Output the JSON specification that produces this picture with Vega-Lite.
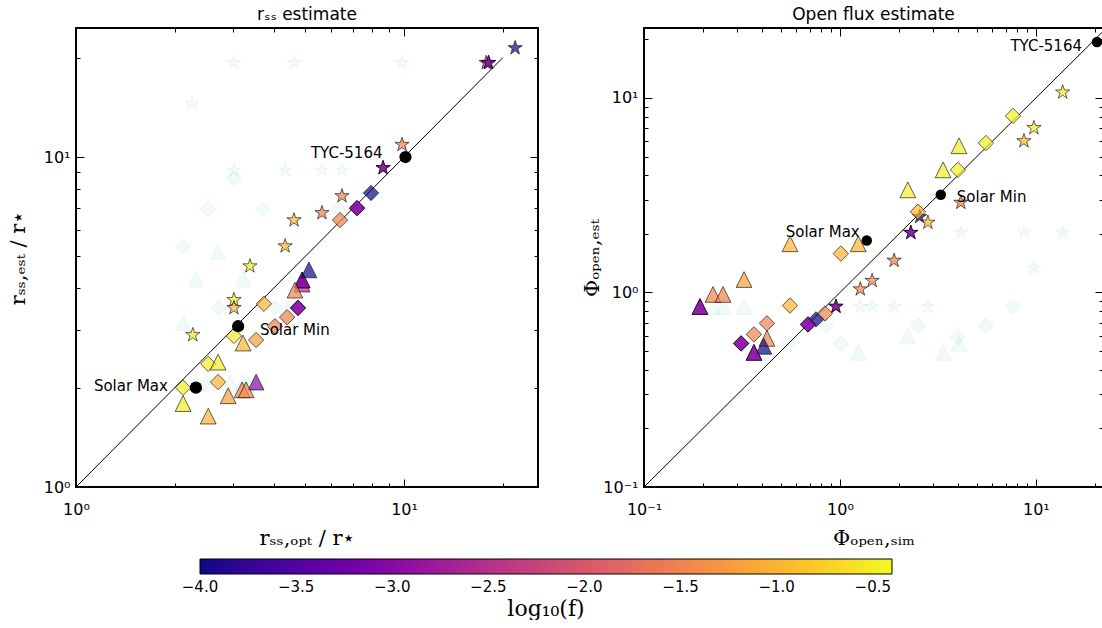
{
"$schema": "https://vega.github.io/schema/vega-lite/v6.json",
"padding": {"left": 6, "top": 4, "right": 0, "bottom": 0},
"spacing": 106,
"bounds": "flush",
"config": {
 "font": "DejaVu Sans",
 "view": {"stroke": "black", "strokeWidth": 2},
 "axis": {"grid": false, "domain": false, "tickColor": "black", "tickWidth": 1, "labelColor": "black", "labelFont": "DejaVu Sans", "labelFontSize": 16, "titleFont": "DejaVu Serif", "titleFontSize": 21, "titleFontWeight": "normal", "titleColor": "black", "labelFlush": false, "labelOverlap": false},
 "title": {"font": "DejaVu Sans", "fontSize": 17, "fontWeight": "normal", "color": "black", "offset": 4}
},
"datasets": {
 "L": [
  {"x":3.03,"y":19.3,"m":"s","g":"b"},{"x":4.62,"y":19.3,"m":"s","g":"b"},{"x":9.86,"y":19.3,"m":"s","g":"b"},{"x":2.26,"y":14.5,"m":"s","g":"b"},
  {"x":3.03,"y":9.12,"m":"s","g":"b"},{"x":4.34,"y":9.12,"m":"s","g":"b"},{"x":5.62,"y":9.12,"m":"s","g":"b"},{"x":6.47,"y":9.12,"m":"s","g":"b"},
  {"x":3.03,"y":8.6,"m":"d","g":"b"},{"x":2.53,"y":6.96,"m":"d","g":"b"},{"x":3.71,"y":6.96,"m":"d","g":"b"},{"x":6.27,"y":6.96,"m":"d","g":"b"},
  {"x":2.12,"y":5.34,"m":"d","g":"b"},{"x":2.73,"y":3.49,"m":"d","g":"b"},{"x":4.04,"y":3.49,"m":"d","g":"b"},{"x":4.49,"y":3.49,"m":"d","g":"b"},
  {"x":2.71,"y":5.16,"m":"t","g":"b"},{"x":2.32,"y":4.27,"m":"t","g":"b"},{"x":3.23,"y":4.27,"m":"t","g":"b"},{"x":2.12,"y":3.14,"m":"t","g":"b"},
  {"x":2.32,"y":2.07,"m":"t","g":"b"},{"x":2.51,"y":2.07,"m":"t","g":"b"},{"x":2.95,"y":2.07,"m":"t","g":"b"},{"x":3.23,"y":2.07,"m":"t","g":"b"},{"x":3.33,"y":2.07,"m":"t","g":"b"},
  {"x":17.8,"y":19.3,"m":"s","f":-2.5,"g":"c"},{"x":18.1,"y":19.3,"m":"s","f":-3,"g":"c"},{"x":18.1,"y":19.3,"m":"s","f":-3,"g":"c"},
  {"x":21.8,"y":21.4,"m":"s","f":-4,"g":"c"},{"x":9.86,"y":10.9,"m":"s","f":-1.5,"g":"c"},
  {"x":8.63,"y":9.27,"m":"s","f":-3,"g":"c"},{"x":8.63,"y":9.27,"m":"s","f":-3,"g":"c"},
  {"x":6.47,"y":7.62,"m":"s","f":-1.5,"g":"c"},{"x":5.62,"y":6.77,"m":"s","f":-1.5,"g":"c"},
  {"x":4.62,"y":6.44,"m":"s","f":-1,"g":"c"},{"x":4.34,"y":5.37,"m":"s","f":-1,"g":"c"},
  {"x":3.39,"y":4.67,"m":"s","f":-0.5,"g":"c"},{"x":3.03,"y":3.69,"m":"s","f":-0.5,"g":"c"},
  {"x":3.03,"y":3.49,"m":"s","f":-1,"g":"c"},{"x":2.27,"y":2.89,"m":"s","f":-0.5,"g":"c"},
  {"x":7.93,"y":7.78,"m":"d","f":-4,"g":"c"},{"x":7.19,"y":7.0,"m":"d","f":-3,"g":"c"},{"x":7.19,"y":7.0,"m":"d","f":-3,"g":"c"},
  {"x":6.38,"y":6.44,"m":"d","f":-1.5,"g":"c"},{"x":3.74,"y":3.59,"m":"d","f":-1,"g":"c"},
  {"x":4.75,"y":3.49,"m":"d","f":-3,"g":"c"},{"x":4.75,"y":3.49,"m":"d","f":-3,"g":"c"},
  {"x":4.4,"y":3.27,"m":"d","f":-1.5,"g":"c"},{"x":4.04,"y":3.07,"m":"d","f":-1.5,"g":"c"},
  {"x":3.54,"y":2.79,"m":"d","f":-1.2,"g":"c"},{"x":3.03,"y":2.87,"m":"d","f":-0.5,"g":"c"},
  {"x":2.53,"y":2.36,"m":"d","f":-0.5,"g":"c"},{"x":2.71,"y":2.08,"m":"d","f":-1,"g":"c"},{"x":2.12,"y":2.0,"m":"d","f":-0.5,"g":"c"},
  {"x":4.89,"y":4.12,"m":"t","f":-2.5,"g":"c"},{"x":4.89,"y":4.24,"m":"t","f":-3,"g":"c"},{"x":4.89,"y":4.24,"m":"t","f":-3,"g":"c"},
  {"x":5.13,"y":4.55,"m":"t","f":-4,"g":"c"},{"x":4.65,"y":3.95,"m":"t","f":-1.5,"g":"c"},
  {"x":3.23,"y":2.73,"m":"t","f":-1,"g":"c"},{"x":2.71,"y":2.39,"m":"t","f":-0.5,"g":"c"},
  {"x":3.54,"y":2.08,"m":"t","f":-3,"g":"c"},{"x":3.21,"y":1.97,"m":"t","f":-1.5,"g":"c"},
  {"x":3.3,"y":1.97,"m":"t","f":-1.4,"g":"c"},{"x":2.91,"y":1.89,"m":"t","f":-1.2,"g":"c"},
  {"x":2.12,"y":1.79,"m":"t","f":-0.5,"g":"c"},{"x":2.53,"y":1.64,"m":"t","f":-1,"g":"c"},
  {"x":10.1,"y":10.0,"m":"o","g":"k","label":"TYC-5164"},
  {"x":3.12,"y":3.07,"m":"o","g":"k","label":"Solar Min"},
  {"x":2.32,"y":2.0,"m":"o","g":"k","label":"Solar Max"}
 ],
 "R": [
  {"x":4.14,"y":2.03,"m":"s","g":"b"},{"x":8.69,"y":2.03,"m":"s","g":"b"},{"x":13.7,"y":2.03,"m":"s","g":"b"},{"x":9.77,"y":1.34,"m":"s","g":"b"},
  {"x":1.27,"y":0.847,"m":"s","g":"b"},{"x":1.46,"y":0.847,"m":"s","g":"b"},{"x":1.89,"y":0.847,"m":"s","g":"b"},{"x":2.81,"y":0.847,"m":"s","g":"b"},
  {"x":0.225,"y":0.847,"m":"t","g":"b"},{"x":0.253,"y":0.847,"m":"t","g":"b"},{"x":0.324,"y":0.847,"m":"t","g":"b"},{"x":4.05,"y":0.547,"m":"t","g":"b"},
  {"x":2.22,"y":0.6,"m":"t","g":"b"},{"x":1.24,"y":0.492,"m":"t","g":"b"},{"x":3.36,"y":0.492,"m":"t","g":"b"},{"x":0.42,"y":0.49,"m":"t","g":"b"},
  {"x":7.64,"y":0.847,"m":"d","g":"b"},{"x":2.5,"y":0.677,"m":"d","g":"b"},{"x":5.56,"y":0.677,"m":"d","g":"b"},{"x":4.0,"y":0.588,"m":"d","g":"b"},
  {"x":1.01,"y":0.547,"m":"d","g":"b"},{"x":0.85,"y":0.677,"m":"d","g":"b"},{"x":0.55,"y":0.547,"m":"d","g":"b"},
  {"x":13.7,"y":10.7,"m":"s","f":-0.5,"g":"c"},{"x":9.77,"y":7.02,"m":"s","f":-0.5,"g":"c"},{"x":8.69,"y":6.01,"m":"s","f":-1,"g":"c"},
  {"x":4.14,"y":2.9,"m":"s","f":-1.5,"g":"c"},{"x":2.55,"y":2.45,"m":"s","f":-4,"g":"c"},{"x":2.81,"y":2.29,"m":"s","f":-1,"g":"c"},
  {"x":2.3,"y":2.03,"m":"s","f":-3,"g":"c"},{"x":2.3,"y":2.03,"m":"s","f":-3,"g":"c"},
  {"x":1.89,"y":1.46,"m":"s","f":-1.5,"g":"c"},{"x":1.46,"y":1.15,"m":"s","f":-1.5,"g":"c"},{"x":1.27,"y":1.04,"m":"s","f":-1.5,"g":"c"},
  {"x":0.954,"y":0.847,"m":"s","f":-3,"g":"c"},{"x":0.954,"y":0.847,"m":"s","f":-3,"g":"c"},
  {"x":7.64,"y":8.09,"m":"d","f":-0.5,"g":"c"},{"x":5.56,"y":5.87,"m":"d","f":-0.5,"g":"c"},{"x":4.0,"y":4.27,"m":"d","f":-0.5,"g":"c"},
  {"x":2.5,"y":2.6,"m":"d","f":-1,"g":"c"},{"x":1.01,"y":1.585,"m":"d","f":-1,"g":"c"},{"x":0.556,"y":0.857,"m":"d","f":-1,"g":"c"},
  {"x":0.838,"y":0.78,"m":"d","f":-1.5,"g":"c"},{"x":0.755,"y":0.727,"m":"d","f":-4,"g":"c"},
  {"x":0.687,"y":0.685,"m":"d","f":-3,"g":"c"},{"x":0.687,"y":0.685,"m":"d","f":-3,"g":"c"},
  {"x":0.424,"y":0.694,"m":"d","f":-1.5,"g":"c"},{"x":0.364,"y":0.609,"m":"d","f":-1.5,"g":"c"},
  {"x":0.313,"y":0.547,"m":"d","f":-3,"g":"c"},{"x":0.313,"y":0.547,"m":"d","f":-3,"g":"c"},
  {"x":4.05,"y":5.68,"m":"t","f":-0.5,"g":"c"},{"x":3.36,"y":4.27,"m":"t","f":-0.5,"g":"c"},{"x":2.22,"y":3.37,"m":"t","f":-0.5,"g":"c"},
  {"x":1.24,"y":1.78,"m":"t","f":-1,"g":"c"},{"x":0.556,"y":1.78,"m":"t","f":-1,"g":"c"},{"x":0.324,"y":1.166,"m":"t","f":-1.2,"g":"c"},
  {"x":0.225,"y":0.977,"m":"t","f":-1.5,"g":"c"},{"x":0.253,"y":0.977,"m":"t","f":-1.5,"g":"c"},
  {"x":0.193,"y":0.847,"m":"t","f":-3,"g":"c"},{"x":0.193,"y":0.847,"m":"t","f":-3,"g":"c"},
  {"x":0.424,"y":0.581,"m":"t","f":-1.5,"g":"c"},{"x":0.409,"y":0.529,"m":"t","f":-4,"g":"c"},
  {"x":0.364,"y":0.492,"m":"t","f":-3,"g":"c"},{"x":0.364,"y":0.492,"m":"t","f":-3,"g":"c"},
  {"x":20.5,"y":19.4,"m":"o","g":"k","label":"TYC-5164"},
  {"x":3.27,"y":3.18,"m":"o","g":"k","label":"Solar Min"},
  {"x":1.37,"y":1.85,"m":"o","g":"k","label":"Solar Max"}
 ]
},
"hconcat": [
 {
  "width": 462, "height": 459,
  "title": {"text": "rₛₛ estimate"},
  "data": {"name": "L"},
  "resolve": {"axis": {"x": "independent", "y": "independent"}},
  "layer": [
   {
    "transform": [{"filter": "datum.g == 'b'"}],
    "mark": {"type": "point", "filled": true, "fill": "#3cb89a", "fillOpacity": 0.07, "stroke": "#3cb89a", "strokeOpacity": 0.08, "strokeWidth": 1},
    "encoding": {
     "x": {"field": "x", "type": "quantitative", "scale": {"type": "log", "domain": [1, 25.6], "nice": false}, "axis": {"orient": "bottom", "values": [1, 10], "tickSize": -8, "labelPadding": 22, "labelExpr": "datum.value < 0.5 ? '10⁻¹' : datum.value < 5 ? '10⁰' : '10¹'", "title": "rₛₛ,ₒₚₜ / r⋆", "titlePadding": 10}},
     "y": {"field": "y", "type": "quantitative", "scale": {"type": "log", "domain": [1, 24.6], "nice": false}, "axis": {"orient": "left", "values": [1, 10], "tickSize": -8, "labelPadding": 14, "labelExpr": "datum.value < 0.5 ? '10⁻¹' : datum.value < 5 ? '10⁰' : '10¹'", "title": "rₛₛ,ₑₛₜ / r⋆", "titlePadding": 15}},
     "shape": {"field": "m", "type": "nominal", "scale": {"domain": ["s", "d", "t", "o"], "range": ["M0,-1L0.2245,-0.309L0.951,-0.309L0.363,0.118L0.588,0.809L0,0.382L-0.588,0.809L-0.363,0.118L-0.951,-0.309L-0.2245,-0.309Z", "diamond", "M0,-1L1,1L-1,1Z", "circle"]}, "legend": null},
     "size": {"field": "m", "type": "ordinal", "scale": {"domain": ["s", "d", "t", "o"], "range": [225, 260, 185, 140]}, "legend": null}
    }
   },
   {
    "data": {"values": [{"v": 1}, {"v": 20}]},
    "mark": {"type": "line", "color": "black", "strokeWidth": 1, "clip": true},
    "encoding": {
     "x": {"field": "v", "type": "quantitative", "scale": {"type": "log", "domain": [1, 25.6], "nice": false}, "axis": {"orient": "top", "values": [1, 10], "tickSize": -8, "labels": false, "title": null}},
     "y": {"field": "v", "type": "quantitative", "scale": {"type": "log", "domain": [1, 24.6], "nice": false}, "axis": {"orient": "right", "values": [1, 10], "tickSize": -8, "labels": false, "title": null}}
    }
   },
   {
    "transform": [{"filter": "datum.g == 'c'"}],
    "mark": {"type": "point", "filled": true, "fillOpacity": 0.7, "stroke": "black", "strokeOpacity": 0.6, "strokeWidth": 1},
    "encoding": {
     "x": {"field": "x", "type": "quantitative", "scale": {"type": "log", "domain": [1, 25.6], "nice": false}, "axis": {"orient": "bottom", "values": [2, 3, 4, 5, 6, 7, 8, 9, 20], "tickSize": -4, "labels": false, "title": null}},
     "y": {"field": "y", "type": "quantitative", "scale": {"type": "log", "domain": [1, 24.6], "nice": false}, "axis": {"orient": "left", "values": [2, 3, 4, 5, 6, 7, 8, 9, 20], "tickSize": -4, "labels": false, "title": null}},
     "fill": {"field": "f", "type": "quantitative", "scale": {"scheme": "plasma", "domain": [-4, -0.4]}, "legend": {"orient": "none", "direction": "horizontal", "legendX": 124, "legendY": 531, "gradientLength": 692, "gradientThickness": 15, "gradientStrokeColor": "black", "gradientStrokeWidth": 1, "title": "log₁₀(f)", "titleOrient": "bottom", "titleAnchor": "middle", "titleFont": "DejaVu Serif", "titleFontSize": 22, "titleFontWeight": "normal", "titleColor": "black", "titlePadding": 4, "labelFontSize": 15, "labelColor": "black", "labelOverlap": false, "labelAlign": "center", "labelOffset": 6, "values": [-4, -3.5, -3, -2.5, -2, -1.5, -1, -0.5], "format": ".1f", "labelExpr": "replace(datum.label, '-', '−')", "padding": 0, "encode": {"labels": {"update": {"align": {"value": "center"}}}}}},
     "shape": {"field": "m", "type": "nominal", "scale": {"domain": ["s", "d", "t", "o"], "range": ["M0,-1L0.2245,-0.309L0.951,-0.309L0.363,0.118L0.588,0.809L0,0.382L-0.588,0.809L-0.363,0.118L-0.951,-0.309L-0.2245,-0.309Z", "diamond", "M0,-1L1,1L-1,1Z", "circle"]}, "legend": null},
     "size": {"field": "m", "type": "ordinal", "scale": {"domain": ["s", "d", "t", "o"], "range": [225, 260, 185, 140]}, "legend": null}
    }
   },
   {
    "transform": [{"filter": "datum.g == 'k'"}],
    "mark": {"type": "point", "filled": true, "fill": "black", "size": 150, "shape": "circle", "opacity": 1},
    "encoding": {
     "x": {"field": "x", "type": "quantitative", "scale": {"type": "log", "domain": [1, 25.6], "nice": false}, "axis": {"orient": "top", "values": [2, 3, 4, 5, 6, 7, 8, 9, 20], "tickSize": -4, "labels": false, "title": null}},
     "y": {"field": "y", "type": "quantitative", "scale": {"type": "log", "domain": [1, 24.6], "nice": false}, "axis": {"orient": "right", "values": [2, 3, 4, 5, 6, 7, 8, 9, 20], "tickSize": -4, "labels": false, "title": null}}
    }
   },
   {
    "transform": [{"filter": "datum.label == 'TYC-5164'"}],
    "mark": {"type": "text", "align": "right", "baseline": "middle", "dx": -23, "dy": -4, "fontSize": 15, "color": "black"},
    "encoding": {
     "x": {"field": "x", "type": "quantitative", "scale": {"type": "log", "domain": [1, 25.6], "nice": false}, "axis": null},
     "y": {"field": "y", "type": "quantitative", "scale": {"type": "log", "domain": [1, 24.6], "nice": false}, "axis": null},
     "text": {"field": "label"}
    }
   },
   {
    "transform": [{"filter": "datum.label == 'Solar Min'"}],
    "mark": {"type": "text", "align": "left", "baseline": "middle", "dx": 22, "dy": 4, "fontSize": 15, "color": "black"},
    "encoding": {
     "x": {"field": "x", "type": "quantitative", "scale": {"type": "log", "domain": [1, 25.6], "nice": false}, "axis": null},
     "y": {"field": "y", "type": "quantitative", "scale": {"type": "log", "domain": [1, 24.6], "nice": false}, "axis": null},
     "text": {"field": "label"}
    }
   },
   {
    "transform": [{"filter": "datum.label == 'Solar Max'"}],
    "mark": {"type": "text", "align": "right", "baseline": "middle", "dx": -28, "dy": -2, "fontSize": 15, "color": "black"},
    "encoding": {
     "x": {"field": "x", "type": "quantitative", "scale": {"type": "log", "domain": [1, 25.6], "nice": false}, "axis": null},
     "y": {"field": "y", "type": "quantitative", "scale": {"type": "log", "domain": [1, 24.6], "nice": false}, "axis": null},
     "text": {"field": "label"}
    }
   }
  ]
 },
 {
  "width": 459, "height": 459,
  "title": {"text": "Open flux estimate"},
  "data": {"name": "R"},
  "resolve": {"axis": {"x": "independent", "y": "independent"}},
  "layer": [
   {
    "transform": [{"filter": "datum.g == 'b'"}],
    "mark": {"type": "point", "filled": true, "fill": "#3cb89a", "fillOpacity": 0.07, "stroke": "#3cb89a", "strokeOpacity": 0.08, "strokeWidth": 1},
    "encoding": {
     "x": {"field": "x", "type": "quantitative", "scale": {"type": "log", "domain": [0.1, 22], "nice": false}, "axis": {"orient": "bottom", "values": [0.1, 1, 10], "tickSize": -8, "labelPadding": 22, "labelExpr": "datum.value < 0.5 ? '10⁻¹' : datum.value < 5 ? '10⁰' : '10¹'", "title": "Φₒₚₑₙ,ₛᵢₘ", "titlePadding": 10}},
     "y": {"field": "y", "type": "quantitative", "scale": {"type": "log", "domain": [0.1, 22.9], "nice": false}, "axis": {"orient": "left", "values": [0.1, 1, 10], "tickSize": -8, "labelPadding": 14, "labelExpr": "datum.value < 0.5 ? '10⁻¹' : datum.value < 5 ? '10⁰' : '10¹'", "title": "Φₒₚₑₙ,ₑₛₜ", "titlePadding": 0}},
     "shape": {"field": "m", "type": "nominal", "scale": {"domain": ["s", "d", "t", "o"], "range": ["M0,-1L0.2245,-0.309L0.951,-0.309L0.363,0.118L0.588,0.809L0,0.382L-0.588,0.809L-0.363,0.118L-0.951,-0.309L-0.2245,-0.309Z", "diamond", "M0,-1L1,1L-1,1Z", "circle"]}, "legend": null},
     "size": {"field": "m", "type": "ordinal", "scale": {"domain": ["s", "d", "t", "o"], "range": [225, 260, 185, 140]}, "legend": null}
    }
   },
   {
    "data": {"values": [{"v": 0.1}, {"v": 30}]},
    "mark": {"type": "line", "color": "black", "strokeWidth": 1, "clip": true},
    "encoding": {
     "x": {"field": "v", "type": "quantitative", "scale": {"type": "log", "domain": [0.1, 22], "nice": false}, "axis": {"orient": "top", "values": [0.1, 1, 10], "tickSize": -8, "labels": false, "title": null}},
     "y": {"field": "v", "type": "quantitative", "scale": {"type": "log", "domain": [0.1, 22.9], "nice": false}, "axis": {"orient": "right", "values": [0.1, 1, 10], "tickSize": -8, "labels": false, "title": null}}
    }
   },
   {
    "transform": [{"filter": "datum.g == 'c'"}],
    "mark": {"type": "point", "filled": true, "fillOpacity": 0.7, "stroke": "black", "strokeOpacity": 0.6, "strokeWidth": 1},
    "encoding": {
     "x": {"field": "x", "type": "quantitative", "scale": {"type": "log", "domain": [0.1, 22], "nice": false}, "axis": {"orient": "bottom", "values": [0.2, 0.3, 0.4, 0.5, 0.6, 0.7, 0.8, 0.9, 2, 3, 4, 5, 6, 7, 8, 9, 20], "tickSize": -4, "labels": false, "title": null}},
     "y": {"field": "y", "type": "quantitative", "scale": {"type": "log", "domain": [0.1, 22.9], "nice": false}, "axis": {"orient": "left", "values": [0.2, 0.3, 0.4, 0.5, 0.6, 0.7, 0.8, 0.9, 2, 3, 4, 5, 6, 7, 8, 9, 20], "tickSize": -4, "labels": false, "title": null}},
     "fill": {"field": "f", "type": "quantitative", "scale": {"scheme": "plasma", "domain": [-4, -0.4]}, "legend": {"orient": "none", "direction": "horizontal", "legendX": 124, "legendY": 531, "gradientLength": 692, "gradientThickness": 15, "gradientStrokeColor": "black", "gradientStrokeWidth": 1, "title": "log₁₀(f)", "titleOrient": "bottom", "titleAnchor": "middle", "titleFont": "DejaVu Serif", "titleFontSize": 22, "titleFontWeight": "normal", "titleColor": "black", "titlePadding": 4, "labelFontSize": 15, "labelColor": "black", "labelOverlap": false, "labelAlign": "center", "labelOffset": 6, "values": [-4, -3.5, -3, -2.5, -2, -1.5, -1, -0.5], "format": ".1f", "labelExpr": "replace(datum.label, '-', '−')", "padding": 0, "encode": {"labels": {"update": {"align": {"value": "center"}}}}}},
     "shape": {"field": "m", "type": "nominal", "scale": {"domain": ["s", "d", "t", "o"], "range": ["M0,-1L0.2245,-0.309L0.951,-0.309L0.363,0.118L0.588,0.809L0,0.382L-0.588,0.809L-0.363,0.118L-0.951,-0.309L-0.2245,-0.309Z", "diamond", "M0,-1L1,1L-1,1Z", "circle"]}, "legend": null},
     "size": {"field": "m", "type": "ordinal", "scale": {"domain": ["s", "d", "t", "o"], "range": [225, 260, 185, 140]}, "legend": null}
    }
   },
   {
    "transform": [{"filter": "datum.g == 'k'"}],
    "mark": {"type": "point", "filled": true, "fill": "black", "size": 110, "shape": "circle", "opacity": 1},
    "encoding": {
     "x": {"field": "x", "type": "quantitative", "scale": {"type": "log", "domain": [0.1, 22], "nice": false}, "axis": {"orient": "top", "values": [0.2, 0.3, 0.4, 0.5, 0.6, 0.7, 0.8, 0.9, 2, 3, 4, 5, 6, 7, 8, 9, 20], "tickSize": -4, "labels": false, "title": null}},
     "y": {"field": "y", "type": "quantitative", "scale": {"type": "log", "domain": [0.1, 22.9], "nice": false}, "axis": {"orient": "right", "values": [0.2, 0.3, 0.4, 0.5, 0.6, 0.7, 0.8, 0.9, 2, 3, 4, 5, 6, 7, 8, 9, 20], "tickSize": -4, "labels": false, "title": null}}
    }
   },
   {
    "transform": [{"filter": "datum.label == 'TYC-5164'"}],
    "mark": {"type": "text", "align": "right", "baseline": "middle", "dx": -15, "dy": 4, "fontSize": 15, "color": "black"},
    "encoding": {
     "x": {"field": "x", "type": "quantitative", "scale": {"type": "log", "domain": [0.1, 22], "nice": false}, "axis": null},
     "y": {"field": "y", "type": "quantitative", "scale": {"type": "log", "domain": [0.1, 22.9], "nice": false}, "axis": null},
     "text": {"field": "label"}
    }
   },
   {
    "transform": [{"filter": "datum.label == 'Solar Min'"}],
    "mark": {"type": "text", "align": "left", "baseline": "middle", "dx": 16, "dy": 2, "fontSize": 15, "color": "black"},
    "encoding": {
     "x": {"field": "x", "type": "quantitative", "scale": {"type": "log", "domain": [0.1, 22], "nice": false}, "axis": null},
     "y": {"field": "y", "type": "quantitative", "scale": {"type": "log", "domain": [0.1, 22.9], "nice": false}, "axis": null},
     "text": {"field": "label"}
    }
   },
   {
    "transform": [{"filter": "datum.label == 'Solar Max'"}],
    "mark": {"type": "text", "align": "right", "baseline": "middle", "dx": -7, "dy": -9, "fontSize": 15, "color": "black"},
    "encoding": {
     "x": {"field": "x", "type": "quantitative", "scale": {"type": "log", "domain": [0.1, 22], "nice": false}, "axis": null},
     "y": {"field": "y", "type": "quantitative", "scale": {"type": "log", "domain": [0.1, 22.9], "nice": false}, "axis": null},
     "text": {"field": "label"}
    }
   }
  ]
 }
]
}
